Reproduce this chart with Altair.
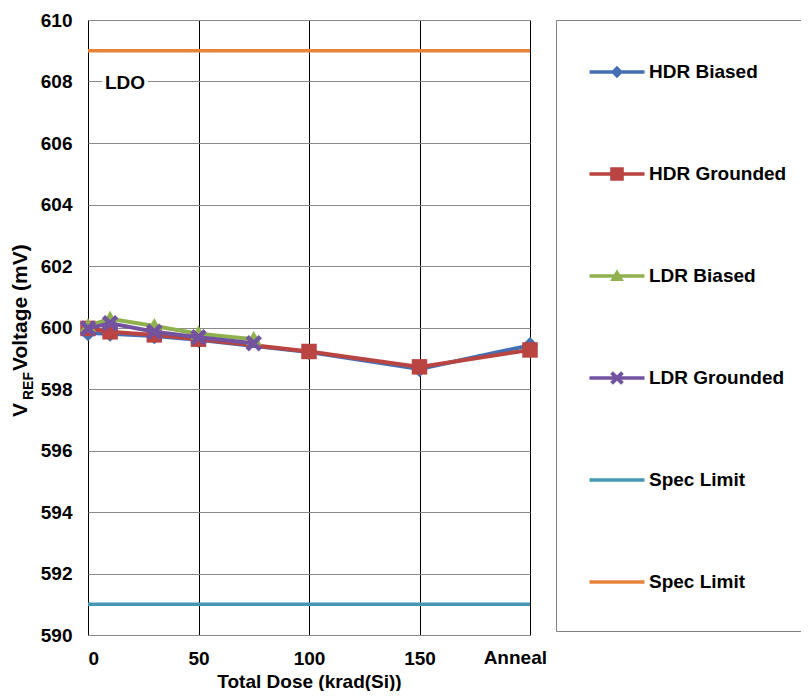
import altair as alt
import pandas as pd

# ---------------- data ----------------
dose_hdr = [0, 10, 30, 50, 100, 150, 200]
dose_ldr = [0, 10, 30, 50, 75]
hdr_biased = [599.82, 599.80, 599.72, 599.60, 599.20, 598.65, 599.42]
hdr_grounded = [599.97, 599.86, 599.76, 599.62, 599.22, 598.72, 599.27]
ldr_biased = [600.05, 600.28, 600.05, 599.80, 599.62]
ldr_grounded = [599.97, 600.14, 599.86, 599.68, 599.49]
spec_dose = [0, 200]
spec_low = [591, 591]
spec_high = [609, 609]

legend_names = ["HDR Biased", "HDR Grounded", "LDR Biased", "LDR Grounded",
                "Spec Limit (low)", "Spec Limit (high)"]
x_ticks = [0, 50, 100, 150, 200]
y_ticks = list(range(590, 611, 2))
anneal_label = ["Anneal"]
ldo_label = ["LDO"]

# ---------------- style ----------------
FONT = "Liberation Sans"
C_BLUE, C_RED, C_GREEN, C_PURPLE = "#4470B3", "#B94441", "#8FB24F", "#7353A0"
C_TEAL, C_ORANGE = "#4597B3", "#E5833B"
legend_colors = [C_BLUE, C_RED, C_GREEN, C_PURPLE, C_TEAL, C_ORANGE]

W, H = 442, 615

def poly(points, k=1.0):
    return "M" + "L".join(f"{x*k:.3f},{y*k:.3f}" for x, y in points) + "Z"

DIAMOND = [(0, -1), (1, 0), (0, 1), (-1, 0)]
SQUARE = [(-1, -1), (1, -1), (1, 1), (-1, 1)]
TRIANGLE = [(0, -1), (1, 0.75), (-1, 0.75)]
XMARK = [(-1, -0.6), (-0.6, -1), (0, -0.4), (0.6, -1), (1, -0.6), (0.4, 0),
         (1, 0.6), (0.6, 1), (0, 0.4), (-0.6, 1), (-1, 0.6), (-0.4, 0)]
LINE = [(-2.75, -0.17), (2.75, -0.17), (2.75, 0.17), (-2.75, 0.17)]

legend_paths = [
    poly(LINE) + poly(DIAMOND, 0.62),
    poly(LINE) + poly(SQUARE, 0.68),
    poly(LINE) + poly(TRIANGLE, 0.68),
    poly(LINE) + poly(XMARK, 0.68),
    poly(LINE),
    poly(LINE),
]

xscale = alt.Scale(domain=[0, 200], nice=False, zero=False)
yscale = alt.Scale(domain=[590, 610], nice=False, zero=False)

x_enc = alt.X("dose:Q", scale=xscale, axis=alt.Axis(
    values=x_ticks, title="Total Dose (krad(Si))",
    labelExpr="datum.value == 200 ? '' : datum.label",
    grid=True, gridColor="#000000", gridWidth=1, ticks=False, tickSize=0,
    domain=False, labelPadding=14, labelFont=FONT, labelFontSize=19,
    labelFontWeight="bold", labelColor="#000000",
    titleFont=FONT, titleFontSize=19, titleFontWeight="bold", titleColor="#000000",
    titleBaseline="alphabetic", titleY=52))
y_enc = alt.Y("v:Q", scale=yscale, axis=alt.Axis(
    values=y_ticks, title=None, grid=True, gridColor="#8a8a8a", gridWidth=1,
    ticks=False, tickSize=0, domain=False, labelPadding=16, labelFont=FONT,
    labelFontSize=19, labelFontWeight="bold", labelColor="#000000"))

layers = []

# legend frame: left, top and bottom edges (right edge lies past the page edge)
frame_df = pd.DataFrame({"t": ["frame"]})
frame_rule = alt.Chart(frame_df).mark_rule(stroke="#7f7f7f", strokeWidth=1)
layers.append(frame_rule.encode(x=alt.value(468.5), y=alt.value(0.5), y2=alt.value(611.5)))
layers.append(frame_rule.encode(x=alt.value(468.5), x2=alt.value(760), y=alt.value(0.5)))
layers.append(frame_rule.encode(x=alt.value(468.5), x2=alt.value(760), y=alt.value(611.5)))

# spec limits
for vals, col in [(spec_low, C_TEAL), (spec_high, C_ORANGE)]:
    df = pd.DataFrame({"dose": spec_dose, "v": vals})
    layers.append(alt.Chart(df).mark_line(strokeWidth=3.5, color=col).encode(x=x_enc, y=y_enc))

# LDO annotation with white box
ldo_df = pd.DataFrame({"t": ldo_label})
layers.append(alt.Chart(ldo_df).mark_rect(color="white").encode(
    x=alt.value(14), x2=alt.value(60), y=alt.value(54), y2=alt.value(70)))
layers.append(alt.Chart(ldo_df).mark_text(
    align="left", baseline="middle", font=FONT, fontSize=19, fontWeight="bold",
    color="#000000").encode(x=alt.value(17), y=alt.value(63), text="t:N"))

# series
series = [
    (dose_hdr, hdr_biased, C_BLUE, poly(DIAMOND), 270),
    (dose_hdr, hdr_grounded, C_RED, poly(SQUARE), 240),
    (dose_ldr, ldr_biased, C_GREEN, poly(TRIANGLE), 260),
    (dose_ldr, ldr_grounded, C_PURPLE, poly(XMARK), 270),
]
for xs, ys, col, shp, sz in series:
    df = pd.DataFrame({"dose": xs, "v": ys})
    base = alt.Chart(df)
    layers.append(base.mark_line(strokeWidth=4, color=col).encode(x=x_enc, y=y_enc))
    layers.append(base.mark_point(filled=True, opacity=1, color=col, strokeWidth=0).encode(
        x=x_enc, y=y_enc, shape=alt.value(shp), size=alt.value(sz)))

# Anneal tick label
ann_df = pd.DataFrame({"dose": [200], "t": anneal_label})
layers.append(alt.Chart(ann_df).mark_text(
    align="right", baseline="top", dx=17, font=FONT, fontSize=19, fontWeight="bold",
    color="#000000").encode(x=alt.X("dose:Q", scale=xscale), y=alt.value(H + 14), text="t:N"))

# y axis title with subscript
for txt, fs, xv, yv in [("V", 21, -61.5, 397), ("REF", 14, -55, 380),
                         ("Voltage (mV)", 21, -61.5, 351)]:
    layers.append(alt.Chart(pd.DataFrame({"t": [txt]})).mark_text(
        align="left", baseline="alphabetic", angle=270, font=FONT, fontSize=fs,
        fontWeight="bold", color="#000000").encode(
        x=alt.value(xv), y=alt.value(yv), text="t:N"))

# legend (driven by explicit scale domain; data rows filtered out)
leg = alt.Legend(
    orient="none", legendX=468, legendY=0, padding=42, rowPadding=82,
    symbolSize=400, symbolOffset=9, labelOffset=22, symbolStrokeWidth=0,
    labelFont=FONT, labelFontSize=19, labelFontWeight="bold", labelColor="#000000",
    labelLimit=400, title=None,
    labelExpr="indexof(datum.label, 'Spec Limit') == 0 ? 'Spec Limit' : datum.label")
leg_df = pd.DataFrame({"series": legend_names, "dose": [0] * 6, "v": [600] * 6})
layers.append(alt.Chart(leg_df).transform_filter("false").mark_point(
    filled=True, opacity=1).encode(
    x=alt.X("dose:Q", scale=xscale), y=alt.Y("v:Q", scale=yscale),
    color=alt.Color("series:N", scale=alt.Scale(domain=legend_names, range=legend_colors), legend=leg),
    shape=alt.Shape("series:N", scale=alt.Scale(domain=legend_names, range=legend_paths), legend=leg)))

chart = alt.layer(*layers).properties(
    width=W, height=H,
    padding={"left": 80, "top": 12, "right": 271, "bottom": 56},
    autosize=alt.AutoSizeParams(type="none"),
).configure_view(stroke="#000000", strokeWidth=1.6).configure(background="white")

chart.save("out.html", embed_options={"renderer": "svg", "actions": False})
